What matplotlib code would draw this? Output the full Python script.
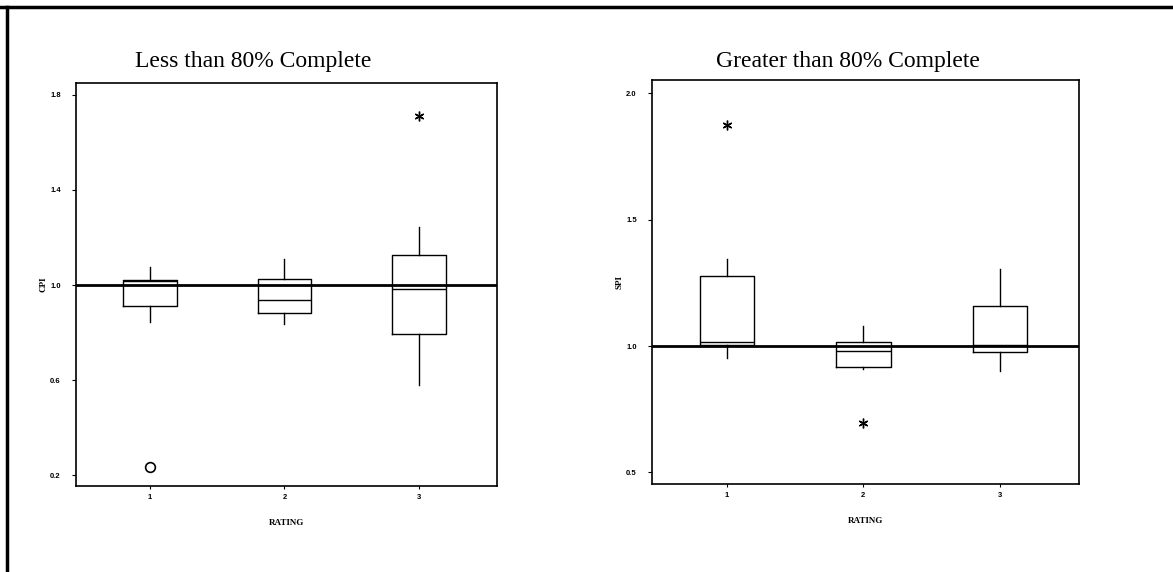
import matplotlib.pyplot as plt
from matplotlib.lines import Line2D

# values
ratings = [1, 2, 3]

cpi_q1 = [0.913, 0.881, 0.795]
cpi_med = [1.018, 0.935, 0.983]
cpi_q3 = [1.022, 1.027, 1.126]
cpi_lo = [0.846, 0.834, 0.579]
cpi_hi = [1.077, 1.109, 1.243]
cpi_far_x = [1]
cpi_far_y = [0.235]
cpi_out_x = [3]
cpi_out_y = [1.712]

spi_q1 = [1.004, 0.918, 0.975]
spi_med = [1.016, 0.980, 1.005]
spi_q3 = [1.277, 1.017, 1.158]
spi_lo = [0.954, 0.909, 0.901]
spi_hi = [1.344, 1.079, 1.307]
spi_out_x = [1, 2]
spi_out_y = [1.874, 0.697]

tick_font = dict(family='Liberation Sans', weight='bold', size=5.5)
lab_font = dict(family='Liberation Serif', weight='bold', size=6.5)


def stats(q1, med, q3, lo, hi):
  out = []
  for i in range(len(q1)):
    out.append(dict(q1=q1[i], med=med[i], q3=q3[i], whislo=lo[i], whishi=hi[i], fliers=[]))
  return out


def draw(ax, st, yticks, ylabel, ylim):
  ax.bxp(st, positions=ratings, widths=0.4, showcaps=False,
         boxprops=dict(color='black', lw=1.0),
         medianprops=dict(color='black', lw=1.0),
         whiskerprops=dict(color='black', lw=1.0))
  ax.axhline(1.0, color='black', lw=2.0, zorder=5)
  ax.set_xlim(0.45, 3.58)
  ax.set_ylim(*ylim)
  ax.set_yticks(yticks)
  ax.set_yticklabels(['%.1f' % v for v in yticks], fontdict=tick_font)
  ax.set_xticks(ratings)
  ax.set_xticklabels([str(r) for r in ratings], fontdict=tick_font)
  ax.tick_params(direction='out', length=3, width=0.8, pad=8)
  ax.tick_params(axis='x', length=2, pad=4)
  for s in ax.spines.values():
    s.set_linewidth(1.2)
  ax.set_xlabel('RATING', fontdict=lab_font, labelpad=13)
  ax.set_ylabel(ylabel, fontdict=lab_font, labelpad=2)


fig = plt.figure(figsize=(11.73, 5.72), dpi=100)

ax1 = fig.add_axes([0.0648, 0.1503, 0.3589, 0.7045])
draw(ax1, stats(cpi_q1, cpi_med, cpi_q3, cpi_lo, cpi_hi), [0.2, 0.6, 1.0, 1.4, 1.8], 'CPI', (0.154, 1.85))
ax1.plot(cpi_far_x, cpi_far_y, 'o', mfc='none', mec='black', ms=7, mew=1.2)
ax1.plot(cpi_out_x, cpi_out_y, marker=(6, 2, 0), ls='none', color='black', ms=7, mew=1.0)

ax2 = fig.add_axes([0.5558, 0.1538, 0.364, 0.7063])
draw(ax2, stats(spi_q1, spi_med, spi_q3, spi_lo, spi_hi), [0.5, 1.0, 1.5, 2.0], 'SPI', (0.454, 2.053))
ax2.plot(spi_out_x, spi_out_y, marker=(6, 2, 0), ls='none', color='black', ms=7, mew=1.0)

fig.text(253 / 1173, 1 - 67 / 572, 'Less than 80% Complete', ha='center', va='baseline',
         family='Liberation Serif', size=17)
fig.text(848 / 1173, 1 - 67 / 572, 'Greater than 80% Complete', ha='center', va='baseline',
         family='Liberation Serif', size=17)

# page border from the scan
fig.add_artist(Line2D([0, 1], [1 - 7 / 572, 1 - 7 / 572], color='black', lw=2.5))
fig.add_artist(Line2D([7 / 1173, 7 / 1173], [0, 1 - 7 / 572], color='black', lw=2.5))

fig.savefig('out.png', dpi=100)
